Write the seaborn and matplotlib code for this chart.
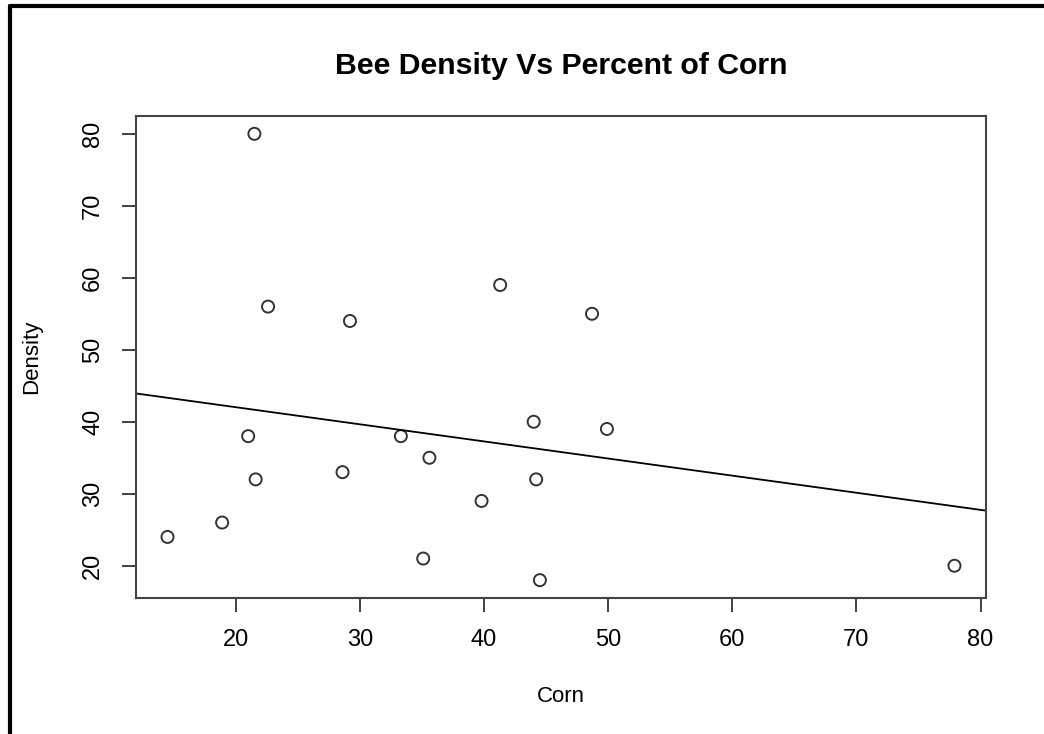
import matplotlib
matplotlib.use("Agg")
import matplotlib.pyplot as plt
import seaborn as sns
import pandas as pd
from matplotlib.lines import Line2D

# values
corn = [21.5, 22.6, 29.2, 41.3, 48.7, 21.0, 33.3, 44.0, 49.9, 35.6,
        21.6, 28.6, 44.2, 39.8, 14.5, 18.9, 35.1, 44.5, 77.9]
density = [80, 56, 54, 59, 55, 38, 38, 40, 39, 35,
           32, 33, 32, 29, 24, 26, 21, 18, 20]
x_ticks = [20, 30, 40, 50, 60, 70, 80]
y_ticks = [20, 30, 40, 50, 60, 70, 80]

df = pd.DataFrame({"Corn": corn, "Density": density})

sns.set_style("ticks")
plt.rcParams["font.family"] = ["Liberation Sans", "DejaVu Sans"]
plt.rcParams["text.color"] = "black"
plt.rcParams["axes.labelcolor"] = "black"
plt.rcParams["xtick.labelcolor"] = "black"
plt.rcParams["ytick.labelcolor"] = "black"

fig = plt.figure(figsize=(10.44, 7.34), dpi=100)
ax = fig.add_axes([0.1303, 0.1853, 0.8141, 0.6567])

# R style 4% padding around data range
xr = max(corn) - min(corn)
yr = max(density) - min(density)
ax.set_xlim(min(corn) - 0.04 * xr, max(corn) + 0.04 * xr)
ax.set_ylim(min(density) - 0.04 * yr, max(density) + 0.04 * yr)

sns.regplot(
    data=df, x="Corn", y="Density", ax=ax, ci=None, truncate=False,
    scatter_kws={"s": 75, "facecolors": "none", "edgecolors": "black",
                 "linewidths": 1.4},
    line_kws={"color": "black", "linewidth": 1.3},
)

ax.set_xticks(x_ticks)
ax.set_yticks(y_ticks)
ax.tick_params(axis="both", length=10, width=1.3, color="#333333",
               labelsize=17)
ax.tick_params(axis="x", pad=12.5)
ax.tick_params(axis="y", pad=13)
for lab in ax.get_yticklabels():
    lab.set_rotation(90)
    lab.set_va("center")
for side in ax.spines.values():
    side.set_visible(True)
    side.set_color("#444444")
    side.set_linewidth(1.5)

ax.set_xlabel("Corn", fontsize=16, labelpad=25)
ax.set_ylabel("Density", fontsize=16, labelpad=29)
ax.set_title("Bee Density Vs Percent of Corn", fontsize=21.8,
             fontweight="bold", pad=30)

# screenshot frame on the top and left edges
fig.add_artist(Line2D([10 / 1044, 1], [1 - 6 / 734, 1 - 6 / 734],
                      color="black", linewidth=3, transform=fig.transFigure))
fig.add_artist(Line2D([10 / 1044, 10 / 1044], [0, 1 - 6 / 734],
                      color="black", linewidth=3, transform=fig.transFigure))

fig.savefig("out.png", dpi=100)
